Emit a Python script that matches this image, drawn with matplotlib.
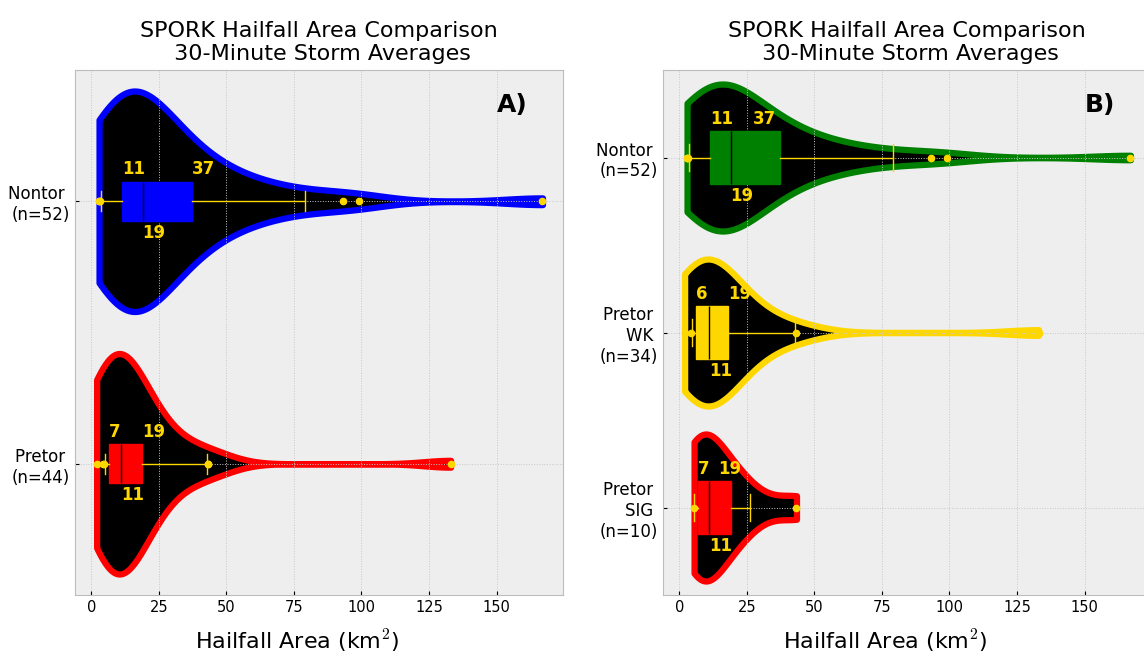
import numpy as np
import matplotlib.pyplot as plt

# --- Daten (Hagelflaeche in km^2, aus der Vorlage abgeschaetzt) ---
nontor = [2.9, 3.0, 3.2, 3.5, 4.5, 5.5, 6.5, 7.5, 8.3, 9.0, 9.8, 10.5, 11.2, 11.6,
          12.1, 12.7, 13.3, 13.9, 14.5, 15.0, 15.6, 16.2, 16.8, 17.4, 18.0, 18.7, 19.3,
          20.0, 21.0, 22.2, 23.5, 25.0, 26.6, 28.3, 30.0, 31.8, 33.6, 35.5, 37.2, 37.6,
          40.0, 43.0, 46.5, 50.0, 54.0, 58.5, 63.5, 70.0, 79.0, 93.0, 99.0, 167.0]
pretor_wk = [2.0, 4.5, 4.6, 5.0, 5.3, 5.6, 5.8, 6.0, 6.2, 6.6, 7.0, 7.5, 8.0, 8.6,
             9.3, 10.0, 10.8, 11.6, 12.3, 13.0, 13.8, 14.9, 16.0, 17.0, 17.6, 18.4,
             21.0, 23.5, 26.0, 29.5, 34.0, 42.8, 43.4, 133.0]
pretor_sig = [5.5, 5.6, 6.8, 7.6, 10.2, 11.8, 16.0, 20.0, 26.1, 43.4]
pretor = pretor_wk + pretor_sig

names_a = ["Nontor \n(n=52)", "Pretor \n(n=44)"]
names_b = ["Nontor \n(n=52)", "Pretor \nWK \n(n=34)", "Pretor \nSIG \n(n=10)"]
colors_a = ["blue", "red"]
colors_b = ["green", "gold", "red"]

# Beschriftungen der Box (Q1, Median, Q3)
labels_a = [(11, 19, 37), (7, 11, 19)]
labels_b = [(11, 19, 37), (6, 11, 19), (7, 11, 19)]
q3_shift_a = [0, 0]
q3_shift_b = [-10, 0, -4.6]

title = "SPORK Hailfall Area Comparison\n 30-Minute Storm Averages"
xlabel = "Hailfall Area (km$^2$)"

plt.rcParams.update({
    "mathtext.fontset": "cm",
    "axes.facecolor": "#eeeeee",
    "axes.edgecolor": "#bcbcbc",
    "grid.color": "#c8c8c8",
    "grid.linestyle": ":",
    "grid.linewidth": 0.7,
})

fig = plt.figure(figsize=(11.44, 6.58), dpi=100)
ax_a = fig.add_axes([75 / 1144, 63 / 658, 488 / 1144, 525 / 658])
ax_b = fig.add_axes([663 / 1144, 63 / 658, 488 / 1144, 525 / 658])


def panel(ax, datasets, names, colors, box_w, labels, q3_shift, tag):
    pos = np.arange(len(datasets))
    vp = ax.violinplot(datasets, positions=pos, orientation="horizontal",
                       widths=0.84, showextrema=False, points=300)
    for body, c in zip(vp["bodies"], colors):
        body.set_facecolor("black")
        body.set_edgecolor(c)
        body.set_linewidth(4.5)
        body.set_alpha(1)

    bp = ax.boxplot(datasets, positions=pos, orientation="horizontal",
                    widths=box_w, whis=(5, 95), patch_artist=True, manage_ticks=False,
                    medianprops=dict(color="black", linewidth=1),
                    whiskerprops=dict(color="gold", linewidth=1),
                    capprops=dict(color="gold", linewidth=1),
                    flierprops=dict(marker="o", markerfacecolor="gold",
                                    markeredgecolor="gold", markersize=4.5))
    for box, c in zip(bp["boxes"], colors):
        box.set_facecolor(c)
        box.set_edgecolor(c)

    # Zahlen an der Box
    for i, d in enumerate(datasets):
        q1, med, q3 = np.percentile(d, [25, 50, 75])
        top = pos[i] - box_w / 2
        bot = pos[i] + box_w / 2
        kw = dict(color="gold", fontsize=12, fontweight="bold",
                  textcoords="offset points", ha="left")
        ax.annotate(str(labels[i][0]), (q1, top), xytext=(0, 2.5), va="bottom", **kw)
        ax.annotate(str(labels[i][2]), (q3 + q3_shift[i], top), xytext=(0, 2.5),
                    va="bottom", **kw)
        ax.annotate(str(labels[i][1]), (med, bot), xytext=(0, -2), va="top", **kw)

    ax.set_yticks(pos, labels=names, fontsize=12)
    ax.set_ylim(len(datasets) - 0.5, -0.5)
    ax.set_xlim(-6, 174.6)
    ax.set_xticks(np.arange(0, 151, 25))
    ax.tick_params(axis="x", labelsize=10.5)
    ax.tick_params(direction="in", length=3, width=0.8)
    ax.grid(True)
    ax.set_title(title, fontsize=16, pad=7)
    ax.set_xlabel(xlabel, fontsize=16)
    ax.xaxis.set_label_coords(0.456, -0.063)
    ax.text(0.865, 0.956, tag, transform=ax.transAxes, ha="left", va="top",
            fontsize=18, fontweight="bold")


panel(ax_a, [nontor, pretor], names_a, colors_a, 0.15, labels_a, q3_shift_a, "A)")
panel(ax_b, [nontor, pretor_wk, pretor_sig], names_b, colors_b, 0.3, labels_b,
      q3_shift_b, "B)")

plt.savefig("out.png", dpi=100)
